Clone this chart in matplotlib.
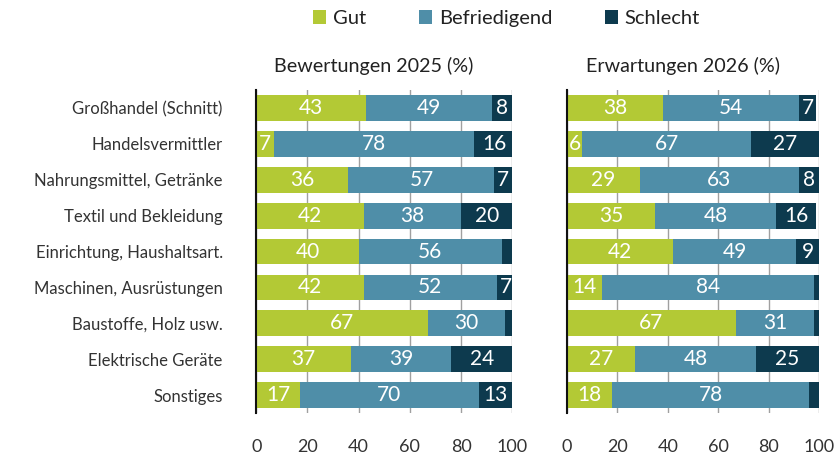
import matplotlib
matplotlib.use("Agg")
import matplotlib.pyplot as plt
from matplotlib.patches import Patch
import numpy as np

plt.rcParams['font.family'] = ['Lato', 'DejaVu Sans']

categories = ["Großhandel (Schnitt)", "Handelsvermittler", "Nahrungsmittel, Getränke",
              "Textil und Bekleidung", "Einrichtung, Haushaltsart.", "Maschinen, Ausrüstungen",
              "Baustoffe, Holz usw.", "Elektrische Geräte", "Sonstiges"]
series_names = ["Gut", "Befriedigend", "Schlecht"]

gut_2025 = [43, 7, 36, 42, 40, 42, 67, 37, 17]
bef_2025 = [49, 78, 57, 38, 56, 52, 30, 39, 70]
sch_2025 = [8, 16, 7, 20, 4, 7, 3, 24, 13]

gut_2026 = [38, 6, 29, 35, 42, 14, 67, 27, 18]
bef_2026 = [54, 67, 63, 48, 49, 84, 31, 48, 78]
sch_2026 = [7, 27, 8, 16, 9, 2, 2, 25, 4]

titles = ["Bewertungen 2025 (%)", "Erwartungen 2026 (%)"]
xticks = [0, 20, 40, 60, 80, 100]

colors = ["#b3c935", "#4f8ea8", "#0d3a4e"]

fig = plt.figure(figsize=(8.4, 4.59), dpi=100)
ax1 = fig.add_axes([0.305, 0.1, 0.305, 0.704])
ax2 = fig.add_axes([0.675, 0.1, 0.300, 0.704])

y = np.arange(len(categories))
for ax, data, title in [(ax1, [gut_2025, bef_2025, sch_2025], titles[0]),
                        (ax2, [gut_2026, bef_2026, sch_2026], titles[1])]:
    left = np.zeros(len(categories))
    for vals, c in zip(data, colors):
        vals = np.array(vals, dtype=float)
        ax.barh(y, vals, left=left, height=0.72, color=c, zorder=2)
        for yi, (l, v) in enumerate(zip(left, vals)):
            if v >= 5:
                ax.text(l + v / 2, yi, f"{int(v)}", ha="center", va="center",
                        color="white", fontsize=15, zorder=3)
        left += vals
    ax.set_xlim(0, 100)
    ax.set_ylim(len(categories) - 0.5, -0.5)
    ax.set_xticks(xticks)
    ax.set_xticklabels([str(t) for t in xticks])
    ax.tick_params(axis="x", length=0, pad=19, labelsize=13, labelcolor="#333333")
    ax.tick_params(axis="y", length=0)
    ax.grid(axis="x", color="#a0a0a0", linewidth=1.0, zorder=0)
    for s in ["top", "right", "bottom"]:
        ax.spines[s].set_visible(False)
    ax.spines["left"].set_color("#111111")
    ax.spines["left"].set_linewidth(1.5)
    ax.spines["left"].set_zorder(4)
    ax.text(0.46, 1.045, title, transform=ax.transAxes, ha="center", va="bottom",
            fontsize=14.2, color="#222222")

ax1.set_yticks(y)
ax1.set_yticklabels(categories, fontsize=12, color="#333333")
ax1.tick_params(axis="y", pad=24)
ax2.set_yticks(y)
ax2.set_yticklabels([])

handles = [Patch(facecolor=c, edgecolor="none") for c in colors]
fig.legend(handles, series_names, loc="center", bbox_to_anchor=(0.603, 0.96), ncol=3,
           frameon=False, fontsize=14.5, handlelength=0.65, handleheight=0.65,
           handletextpad=0.35, columnspacing=2.6, labelcolor="#222222")

fig.savefig("out.png", dpi=100, facecolor="white")
